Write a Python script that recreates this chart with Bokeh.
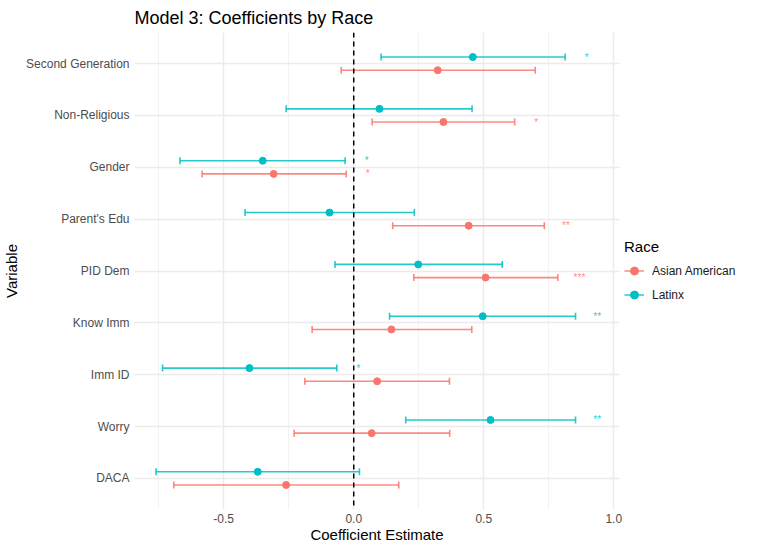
from bokeh.plotting import figure
from bokeh.models import (ColumnDataSource, FactorRange, Range1d, Whisker, Span,
                          Legend, LegendItem, FixedTicker, TeeHead, NumeralTickFormatter)
from bokeh.transform import dodge
from bokeh.core.properties import value
from bokeh.embed import file_html
from bokeh.resources import INLINE

# ---- data (top to bottom as shown) ----
variables = ["Second Generation", "Non-Religious", "Gender", "Parent's Edu", "PID Dem",
             "Know Imm", "Imm ID", "Worry", "DACA"]

asian_est = [0.323, 0.345, -0.308, 0.442, 0.507, 0.145, 0.090, 0.069, -0.260]
asian_low = [-0.048, 0.071, -0.583, 0.150, 0.231, -0.160, -0.188, -0.229, -0.692]
asian_high = [0.698, 0.619, -0.029, 0.733, 0.785, 0.454, 0.368, 0.369, 0.173]
asian_stars = ["", "*", "*", "**", "***", "", "", "", ""]

latinx_est = [0.458, 0.099, -0.350, -0.093, 0.248, 0.496, -0.401, 0.526, -0.369]
latinx_low = [0.105, -0.260, -0.668, -0.418, -0.072, 0.138, -0.735, 0.200, -0.760]
latinx_high = [0.813, 0.455, -0.033, 0.233, 0.571, 0.853, -0.065, 0.853, 0.022]
latinx_stars = ["*", "", "*", "", "", "**", "*", "**", ""]

races = ["Asian American", "Latinx"]
colors = ["#F8766D", "#00BFC4"]
x_ticks = [-0.5, 0.0, 0.5, 1.0]
x_minor = [-0.75, -0.25, 0.25, 0.75]

FONT = "Liberation Sans"
STAR_GAP = 0.083
DODGE = 0.127

cats = variables[::-1]

p = figure(frame_width=485, frame_height=477,
           y_range=FactorRange(factors=cats, range_padding=0.1, range_padding_units="absolute"),
           x_range=Range1d(-0.843, 1.022),
           output_backend="svg", toolbar_location=None,
           min_border_left=127, min_border_right=0, min_border_top=24, min_border_bottom=30)

p.outline_line_color = None
p.background_fill_color = "white"
p.border_fill_color = "white"

p.title.text = "Model 3: Coefficients by Race"
p.title.text_font = FONT
p.title.text_font_size = "18px"
p.title.text_font_style = "normal"
p.title.text_color = "black"
p.title.align = "left"
p.title.standoff = 10

p.xaxis.ticker = FixedTicker(ticks=x_ticks, minor_ticks=x_minor)
p.xaxis.formatter = NumeralTickFormatter(format="0.0")
for ax in (p.xaxis, p.yaxis):
    ax.axis_line_color = None
    ax.major_tick_line_color = None
    ax.minor_tick_line_color = None
    ax.major_tick_out = 0
    ax.major_tick_in = 0
    ax.minor_tick_out = 0
    ax.minor_tick_in = 0
    ax.major_label_text_font = FONT
    ax.major_label_text_font_size = "12px"
    ax.major_label_text_color = "#4D4D4D"
    ax.axis_label_text_font = FONT
    ax.axis_label_text_font_size = "15px"
    ax.axis_label_text_font_style = "normal"
    ax.axis_label_text_color = "black"
p.xaxis.axis_label = "Coefficient Estimate"
p.yaxis.axis_label = "Variable"
p.xaxis.major_label_standoff = 4
p.yaxis.major_label_standoff = 5
p.xaxis.axis_label_standoff = 0
p.yaxis.axis_label_standoff = 3

p.xgrid.grid_line_color = "#EBEBEB"
p.xgrid.grid_line_width = 1.4
p.xgrid.minor_grid_line_color = "#EFEFEF"
p.xgrid.minor_grid_line_width = 0.8
p.ygrid.grid_line_color = "#EBEBEB"
p.ygrid.grid_line_width = 1.4

zero = Span(location=0, dimension="height", line_color="black", line_dash="5 4", line_width=1.5)
p.add_layout(zero)

series = [
    (asian_est, asian_low, asian_high, asian_stars, -DODGE),
    (latinx_est, latinx_low, latinx_high, latinx_stars, DODGE),
]
items = []
for (est, low, high, stars, off), race, col in zip(series, races, colors):
    src = ColumnDataSource(dict(
        variable=variables, est=est, low=low, high=high, stars=stars,
        star_x=[h + STAR_GAP for h in high],
    ))
    yy = dodge("variable", off, range=p.y_range)
    seg = p.segment(x0="low", y0=yy, x1="high", y1=yy, source=src,
                    line_color=col, line_width=1.6, line_alpha=0.85)
    w = Whisker(base=yy, lower="low", upper="high", dimension="width", source=src,
                line_alpha=0,
                upper_head=TeeHead(size=7, line_color=col, line_width=1.6, line_alpha=0.85),
                lower_head=TeeHead(size=7, line_color=col, line_width=1.6, line_alpha=0.85))
    p.add_layout(w)
    pts = p.scatter(x="est", y=yy, source=src, size=7, fill_color=col, line_color=col)
    p.text(x="star_x", y=yy, text="stars", source=src, text_font=value(FONT),
           text_font_size="10px", text_color=col, text_alpha=0.85,
           text_align="center", text_baseline="alphabetic")
    items.append(LegendItem(label=race, renderers=[seg, pts]))

legend = Legend(items=items, location="left", title="Race",
                title_text_font=FONT, title_text_font_size="15px", title_text_font_style="normal",
                title_text_color="black", label_text_font=FONT, label_text_font_size="12px",
                label_text_color="#1A1A1A", glyph_width=20, glyph_height=20, label_height=20,
                label_standoff=8, spacing=4, padding=6, margin=5, title_standoff=6,
                border_line_color=None, background_fill_alpha=0)
p.add_layout(legend, "right")

open("out.html", "w").write(file_html(p, INLINE))
